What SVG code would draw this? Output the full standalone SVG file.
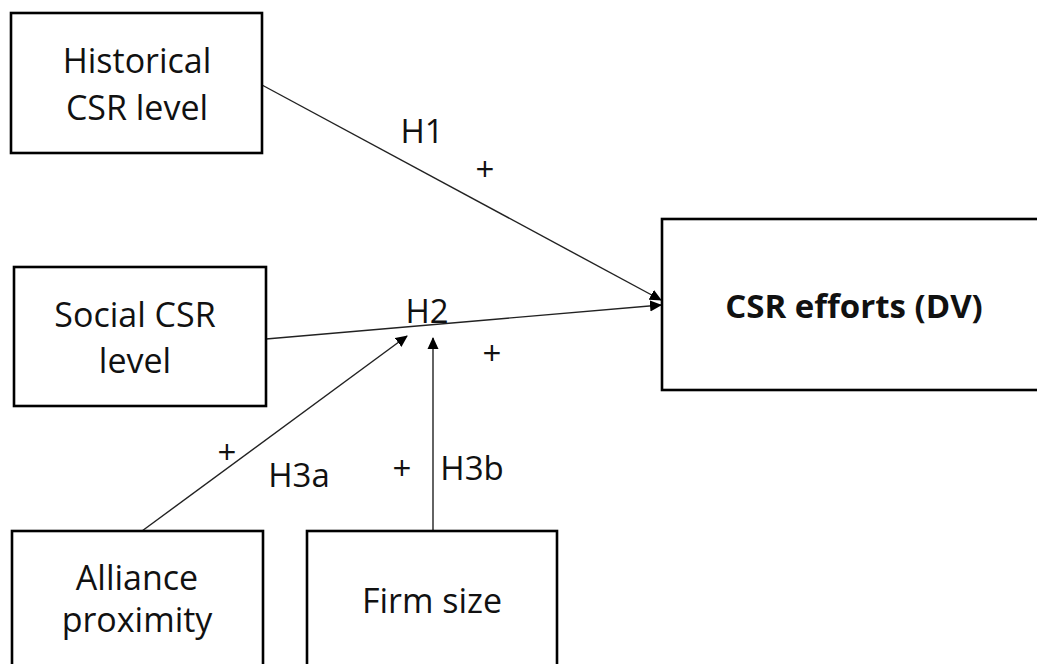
<svg xmlns="http://www.w3.org/2000/svg" width="1037" height="664" viewBox="0 0 1037 664">
<style>
.box{fill:#fff;stroke:#000;stroke-width:2.6}
.t{font-family:"Open Sans","Liberation Sans",sans-serif;font-size:34px;fill:#111;text-anchor:middle}
.b{font-weight:bold;font-size:33px}
.lbl{font-family:"Open Sans","Liberation Sans",sans-serif;font-size:33px;fill:#111;text-anchor:middle}
.ln{stroke:#222;stroke-width:1.4;fill:none}
</style>
<defs>
<marker id="ah" markerWidth="12" markerHeight="12" refX="11" refY="6" orient="auto" markerUnits="userSpaceOnUse">
<path d="M0,0.5 L12,6 L0,11.5 Z" fill="#000"/>
</marker>
</defs>
<rect width="1037" height="664" fill="#fff"/>
<g id="connectors">
<line class="ln" x1="262" y1="85" x2="661" y2="300" marker-end="url(#ah)"/>
<line class="ln" x1="266" y1="339" x2="661" y2="305" marker-end="url(#ah)"/>
<line class="ln" x1="142" y1="531" x2="407" y2="336" marker-end="url(#ah)"/>
<line class="ln" x1="433" y1="531" x2="433" y2="338" marker-end="url(#ah)"/>
<text class="lbl" x="422" y="143">H1</text>
<text class="lbl" x="485" y="181">+</text>
<text class="lbl" x="427" y="323">H2</text>
<text class="lbl" x="492" y="365">+</text>
<text class="lbl" x="227" y="464">+</text>
<text class="lbl" x="299" y="487">H3a</text>
<text class="lbl" x="402" y="480">+</text>
<text class="lbl" x="472" y="480">H3b</text>
</g>
<g id="historical">
<rect class="box" x="11" y="13" width="251" height="140"/>
<text class="t" x="137" y="73">Historical</text>
<text class="t" x="137" y="120">CSR level</text>
</g>
<g id="social">
<rect class="box" x="14" y="267" width="252" height="139"/>
<text class="t" x="135" y="327">Social CSR</text>
<text class="t" x="135" y="373">level</text>
</g>
<g id="csr">
<rect class="box" x="662" y="219" width="390" height="171"/>
<text class="t b" x="854" y="318">CSR efforts (DV)</text>
</g>
<g id="alliance">
<rect class="box" x="12" y="531" width="251" height="150"/>
<text class="t" x="137" y="590">Alliance</text>
<text class="t" x="137" y="632">proximity</text>
</g>
<g id="firm">
<rect class="box" x="307" y="531" width="250" height="150"/>
<text class="t" x="432" y="613">Firm size</text>
</g>
</svg>
